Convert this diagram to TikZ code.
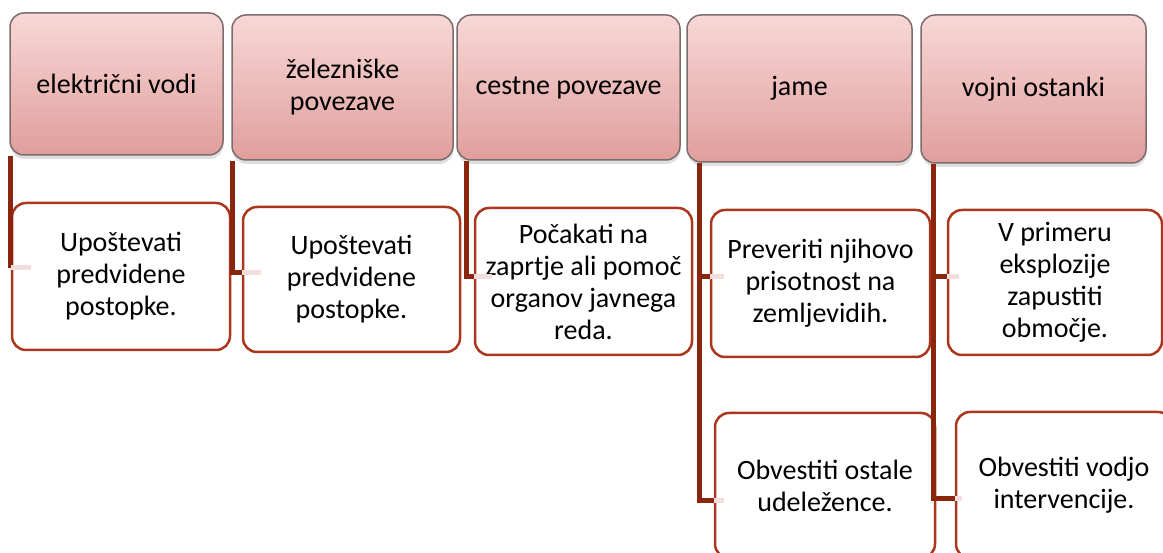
\documentclass[tikz,border=0pt]{standalone}
\usepackage{fontspec}
\setmainfont{Carlito}
\usetikzlibrary{positioning, shadows}
\definecolor{headtop}{RGB}{247, 216, 214}
\definecolor{headbottom}{RGB}{224, 158, 156}
\definecolor{headline}{RGB}{125, 108, 108}
\definecolor{linkred}{RGB}{138, 38, 14}
\definecolor{itemred}{RGB}{170, 54, 30}
\definecolor{stubpink}{RGB}{243, 222, 222}

\begin{document}
\begin{tikzpicture}[x=1pt, y=-1pt,
        base/.style={rounded corners=14pt, align=center, font=\fontsize{28}{32}\selectfont, inner sep=0pt},
        header/.style={base, draw=headline, line width=1.5pt, top color=headtop, bottom color=headbottom, minimum height=145pt, drop shadow={opacity=0.25, shadow xshift=0.5pt, shadow yshift=-4pt}},
        item/.style={base, draw=itemred, line width=2.5pt, fill=white, minimum width=218pt, minimum height=146pt},
        link/.style={draw=linkred, line width=5pt},
        stub/.style={draw=stubpink, line width=5pt}
    ]
        \useasboundingbox (0,0) rectangle (1163,553);

        % Header row
        \node (elec) [header, minimum width=213pt, minimum height=142pt] at (116.5, 84) {električni vodi};
        \node (rail) [header, minimum width=221pt] at (342.5, 87.5) {železniške\\povezave};
        \node (road) [header, minimum width=223pt] at (568.5, 87.5) {cestne povezave};
        \node (pits) [header, minimum width=225pt, minimum height=147pt] at (799.5, 88.5) {jame};
        \node (mil) [header, minimum width=225pt, minimum height=148pt] at (1033.5, 89) {vojni ostanki};

        % Items
        \node (elecA) [item, minimum height=147pt] at (121, 276.5) {Upoštevati\\predvidene\\postopke.};
        \node (railA) [item, minimum width=217pt, minimum height=145pt] at (351.5, 279.5) {Upoštevati\\predvidene\\postopke.};
        \node (roadA) [item, minimum width=217pt, minimum height=147pt] at (583.5, 281.5) {Počakati na\\zaprtje ali pomoč\\organov javnega\\reda.};
        \node (pitsA) [item, minimum width=219pt, minimum height=147pt] at (820.5, 283.5) {Preveriti njihovo\\prisotnost na\\zemljevidih.};
        \node (pitsB) [item, minimum width=220pt, minimum height=145pt] at (825, 485.5) {Obvestiti ostale\\udeležence.};
        \node (milA) [item, minimum width=214pt, minimum height=145pt] at (1055, 282.5) {V primeru\\eksplozije\\zapustiti\\območje.};
        \node (milB) [item, minimum width=216pt, minimum height=146pt] at (1064, 485) {Obvestiti vodjo\\intervencije.};

        % Links
        \draw [link] ([xshift=1.5pt]elec.south west) |- ([yshift=8.5pt]elecA.west);
        \draw [link] ([xshift=1pt]rail.south west) |- ([yshift=6.5pt]railA.west);
        \draw [link] ([xshift=10pt]road.south west) |- ([yshift=4.5pt]roadA.west);
        \draw [link] ([xshift=13pt]pits.south west) |- ([yshift=6.5pt]pitsA.west);
        \draw [link] ([xshift=13pt]pits.south west) |- ([yshift=-14.5pt]pitsB.west);
        \draw [link] ([xshift=13pt]mil.south west) |- ([yshift=5.5pt]milA.west);
        \draw [link] ([xshift=13pt]mil.south west) |- ([yshift=-13pt]milB.west);

        % Faint ends inside the items
        \draw [stub] ([yshift=8.5pt]elecA.west) -- ++(20, 0);
        \draw [stub] ([yshift=6.5pt]railA.west) -- ++(19, 0);
        \draw [stub] ([yshift=4.5pt]roadA.west) -- ++(18, 0);
        \draw [stub] ([yshift=6.5pt]pitsA.west) -- ++(14, 0);
        \draw [stub] ([yshift=-14.5pt]pitsB.west) -- ++(10, 0);
        \draw [stub] ([yshift=5.5pt]milA.west) -- ++(12, 0);
        \draw [stub] ([yshift=-13pt]milB.west) -- ++(7, 0);
    \end{tikzpicture}
\end{document}
